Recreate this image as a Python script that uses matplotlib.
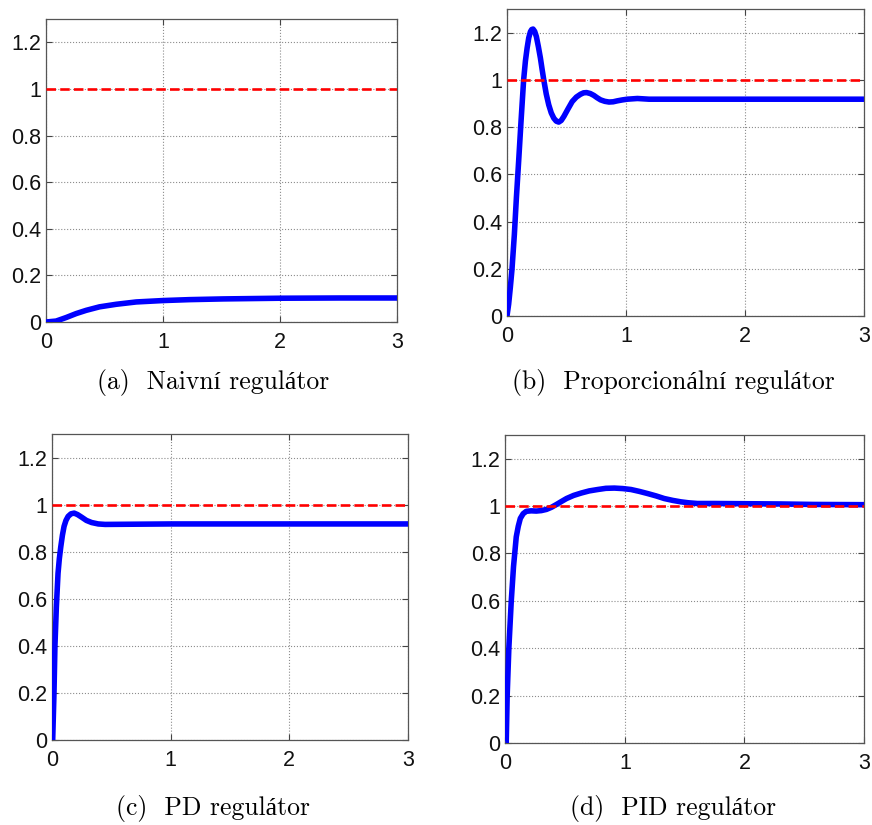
import numpy as np
import matplotlib
matplotlib.use('Agg')
import matplotlib.pyplot as plt


tNaive=[0.0, 0.086, 0.171, 0.257, 0.343, 0.457, 0.6, 0.771, 1.0, 1.229, 1.514, 2.0, 2.514, 3.0]
yNaive=[0.0, 0.004, 0.019, 0.036, 0.05, 0.065, 0.076, 0.086, 0.092, 0.096, 0.099, 0.102, 0.103, 0.103]

tP=[0.0, 0.014, 0.028, 0.042, 0.062, 0.079, 0.098, 0.118, 0.14, 0.155, 0.169, 0.183, 0.197, 0.208,
    0.219, 0.233, 0.247, 0.264, 0.281, 0.295, 0.309, 0.33, 0.351, 0.372, 0.393, 0.414, 0.435, 0.456,
    0.478, 0.513, 0.548, 0.583, 0.618, 0.644, 0.669, 0.7, 0.73, 0.758, 0.787, 0.822, 0.857, 0.892,
    0.927, 0.97, 1.011, 1.096, 1.194, 1.4, 2.0, 3.0]
yP=[0.0, 0.05, 0.12, 0.197, 0.345, 0.5, 0.655, 0.824, 1.0, 1.08, 1.134, 1.178, 1.204, 1.213,
    1.215, 1.205, 1.183, 1.14, 1.092, 1.045, 1.0, 0.94, 0.894, 0.86, 0.838, 0.825, 0.821, 0.828,
    0.845, 0.877, 0.908, 0.927, 0.939, 0.945, 0.946, 0.942, 0.934, 0.924, 0.915, 0.909, 0.906, 0.907,
    0.911, 0.915, 0.918, 0.921, 0.918, 0.918, 0.918, 0.918]

tPD=[0.0, 0.006, 0.017, 0.025, 0.037, 0.051, 0.062, 0.074, 0.088, 0.102, 0.118, 0.136, 0.16, 0.187,
     0.215, 0.249, 0.29, 0.334, 0.39, 0.448, 1.0, 2.0, 3.0]
yPD=[0.0, 0.0, 0.2, 0.4, 0.566, 0.708, 0.77, 0.82, 0.87, 0.908, 0.933, 0.95, 0.961, 0.964,
     0.958, 0.947, 0.933, 0.924, 0.918, 0.916, 0.918, 0.918, 0.918]

tPID=[0.0, 0.006, 0.014, 0.028, 0.048, 0.067, 0.09, 0.107, 0.124, 0.148, 0.174, 0.215, 0.258, 0.3,
      0.343, 0.385, 0.427, 0.47, 0.511, 0.57, 0.633, 0.7, 0.772, 0.84, 0.911, 0.98, 1.05, 1.12,
      1.189, 1.26, 1.328, 1.4, 1.467, 1.53, 1.606, 1.744, 2.02, 2.3, 2.58, 3.0]
yPID=[0.0, 0.0, 0.2, 0.4, 0.597, 0.744, 0.87, 0.915, 0.948, 0.968, 0.978, 0.98, 0.979, 0.981,
      0.986, 0.995, 1.007, 1.02, 1.032, 1.045, 1.055, 1.064, 1.07, 1.075, 1.076, 1.074, 1.07, 1.062,
      1.053, 1.043, 1.032, 1.024, 1.018, 1.014, 1.011, 1.011, 1.01, 1.009, 1.007, 1.006]

reference=1.0
captions=['(a)  Naivní regulátor', '(b)  Proporcionální regulátor',
          '(c)  PD regulátor', '(d)  PID regulátor']
yTicks=[0, 0.2, 0.4, 0.6, 0.8, 1.0, 1.2]
yTickLabels=['0', '0.2', '0.4', '0.6', '0.8', '1', '1.2']
xTicks=[0, 1, 2, 3]

## axes boxes in figure fractions [left, bottom, width, height]
boxes=[[0.0528, 0.6097, 0.4025, 0.3673],
       [0.5814, 0.6170, 0.4094, 0.3721],
       [0.0596, 0.1030, 0.4083, 0.3709],
       [0.5797, 0.0994, 0.4111, 0.3733]]
captionPos=[(0.2445, 0.529), (0.772, 0.529), (0.2445, 0.012), (0.772, 0.012)]


def drawPanel(fig, box, t, y):
    ax=fig.add_axes(box)
    ax.plot(t, y, color='#0000ff', lw=4.0, solid_capstyle='butt', solid_joinstyle='round', zorder=3)
    ax.axhline(reference, color='#ff0000', lw=1.9, dashes=(3.6, 1.6), zorder=4)
    ax.set_xlim(0, 3)
    ax.set_ylim(0, 1.3)
    ax.set_xticks(xTicks)
    ax.set_xticklabels([str(v) for v in xTicks])
    ax.set_yticks(yTicks)
    ax.set_yticklabels(yTickLabels)
    ax.grid(True, ls=':', color='#8c8c8c', lw=0.8)
    ax.tick_params(direction='in', length=4, width=0.8, color='#444444',
                   top=True, right=True, labelsize=15.5)
    ax.tick_params(axis='x', pad=7)
    ax.tick_params(axis='y', pad=3.5)
    for lbl in ax.get_xticklabels()+ax.get_yticklabels():
        lbl.set_family('Liberation Sans')
        lbl.set_color('#111111')
    for sp in ax.spines.values():
        sp.set_color('#555555')
        sp.set_linewidth(0.9)
    return ax


def main():
    fig=plt.figure(figsize=(8.72, 8.25), dpi=100)
    series=[(tNaive, yNaive), (tP, yP), (tPD, yPD), (tPID, yPID)]
    for box, (t, y) in zip(boxes, series):
        drawPanel(fig, box, t, y)
    for (cx, cy), txt in zip(captionPos, captions):
        fig.text(cx, cy, txt, ha='center', va='baseline', fontsize=18.5,
                 family=['cmr10', 'Liberation Serif'])
    fig.savefig('out.png', dpi=100, facecolor='white')


if __name__ == '__main__':
    main()
